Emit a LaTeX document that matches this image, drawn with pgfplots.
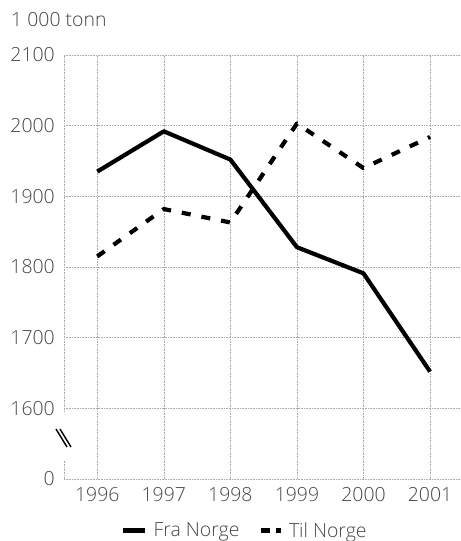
\documentclass[border=0pt]{standalone}
\usepackage{fontspec}
\setmainfont{Open Sans Light}
\usepackage{pgfplots}
\pgfplotsset{compat=1.18}
\definecolor{txt}{RGB}{70,70,70}
\definecolor{grd}{RGB}{170,170,170}
\begin{document}
\begin{tikzpicture}[font=\fontsize{19.5}{23}\selectfont]
\begin{axis}[
  name=ax,
  scale only axis,
  width=396bp, height=424bp,
  xmin=1995.5, xmax=2001.45,
  ymin=1500, ymax=2100,
  axis line style={draw=none},
  xtick={1996,1997,1998,1999,2000,2001},
  xticklabels={1996,1997,1998,1999,2000,2001},
  ytick={1500,1600,1700,1800,1900,2000,2100},
  yticklabels={0,1600,1700,1800,1900,2000,2100},
  major tick length=0pt,
  grid=major,
  major grid style={draw=grd, line width=0.6bp, dash pattern=on 0.8bp off 0.8bp},
  tick label style={text=txt, inner sep=0pt},
  yticklabel style={xshift=-9bp},
  xticklabel style={yshift=-8bp},
  /pgf/number format/assume math mode=true,
  clip=false,
  legend style={at={(axis description cs:0.144,-0.122)}, anchor=west,
    draw=none, fill=none, inner sep=0pt, text=txt,
    legend columns=2,
    /tikz/every odd column/.append style={column sep=4bp},
    /tikz/every even column/.append style={column sep=17bp}},
  legend cell align=left,
]
\addplot[black, line width=4.2bp, line join=round, forget plot]
  coordinates {(1996,1935) (1997,1992) (1998,1952) (1999,1828) (2000,1791) (2001,1652)};
\addplot[black, line width=4.2bp, line join=round, dash pattern=on 9bp off 11bp, forget plot]
  coordinates {(1996,1815) (1997,1882) (1998,1863) (1999,2003) (2000,1940) (2001,1984)};
\addlegendimage{legend image code/.code={\draw[black, line width=4.5bp] (0bp,0bp) -- (22bp,0bp);}}
\addlegendentry{Fra Norge}
\addlegendimage{legend image code/.code={\draw[black, line width=4.5bp, dash pattern=on 9bp off 6bp] (0bp,0bp) -- (20bp,0bp);}}
\addlegendentry{Til Norge}
% left border with gap at the axis break
\draw[draw=grd, line width=0.6bp, dash pattern=on 0.8bp off 0.8bp] (axis cs:1995.5,1500) -- (axis cs:1995.5,1527);
\draw[draw=grd, line width=0.6bp, dash pattern=on 0.8bp off 0.8bp] (axis cs:1995.5,1595) -- (axis cs:1995.5,2100);
\end{axis}
% axis break marks
\draw[black, line width=1.4bp] (-8bp,50bp) -- (3bp,32bp);
\draw[black, line width=1.4bp] (-4bp,50bp) -- (7bp,32bp);
% unit title
\node[anchor=base west, inner sep=0pt, text=txt] at (-53bp,452bp) {1 000 tonn};
\pgfresetboundingbox
\path[use as bounding box] (-64bp,-62bp) rectangle (397bp,479bp);
\end{tikzpicture}
\end{document}
